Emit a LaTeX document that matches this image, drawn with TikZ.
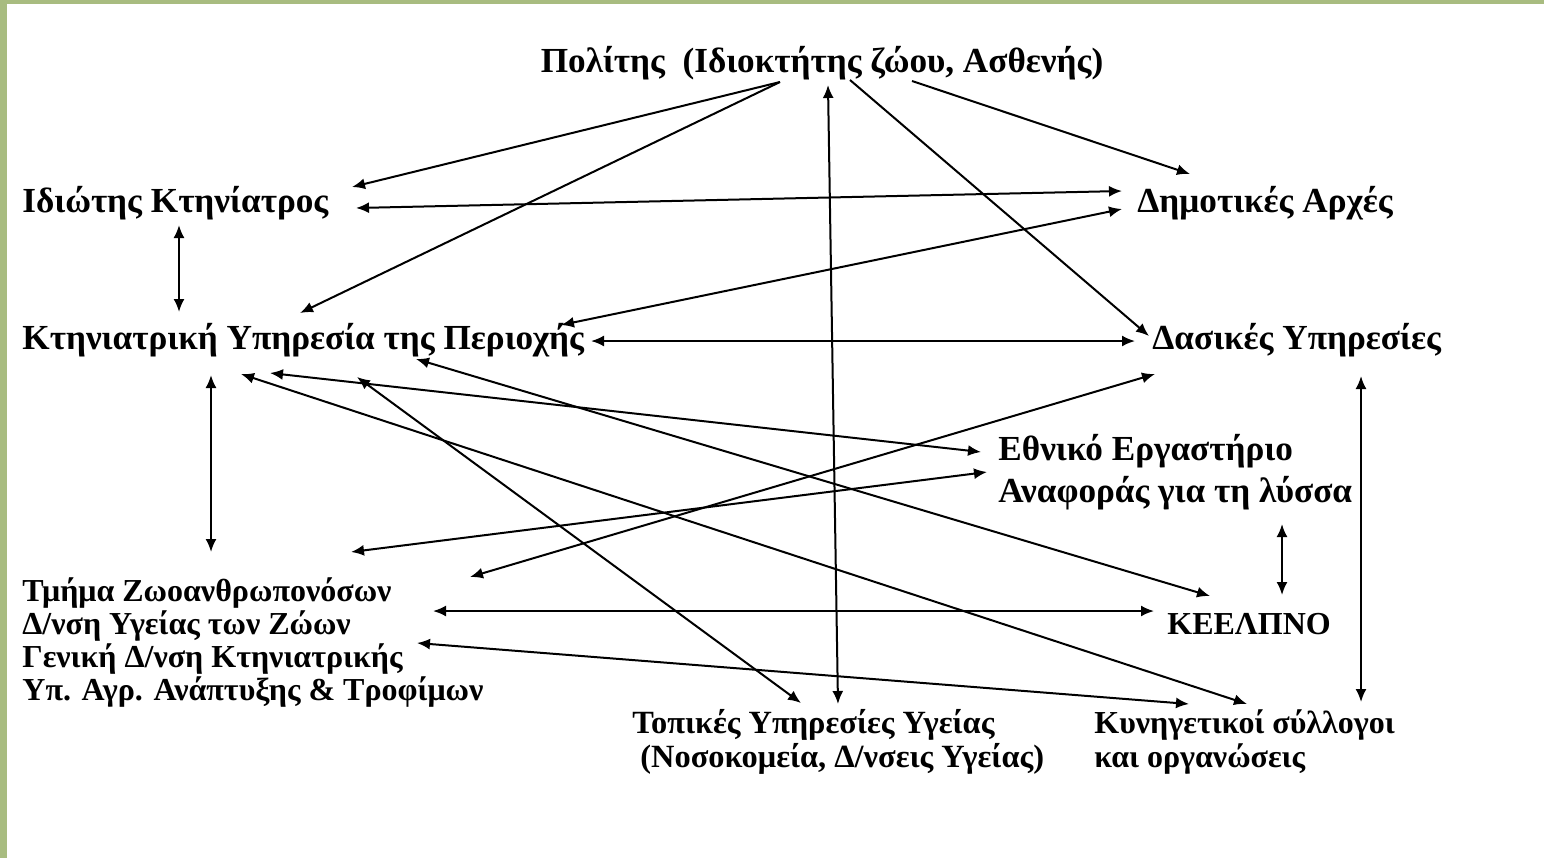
\documentclass[tikz,border=0pt]{standalone}
\usepackage{fontspec}
\setmainfont{Liberation Serif}
\usetikzlibrary{arrows.meta,calc}
\definecolor{olivebg}{RGB}{168,188,128}

\begin{document}
\begin{tikzpicture}[x=0.5pt,y=-0.5pt,
    lbl/.style={inner sep=0pt, font=\fontsize{16}{16.5}\selectfont\bfseries, align=left},
    biglbl/.style={lbl, font=\fontsize{17.6}{21}\selectfont\bfseries},
    link/.style={line width=1pt, -{Latex[length=6.5pt,width=5.5pt]}},
    twoway/.style={line width=1pt, {Latex[length=6.5pt,width=5.5pt]}-{Latex[length=6.5pt,width=5.5pt]}}]
  \useasboundingbox (0,0) rectangle (1544,858);
  \fill[olivebg] (0,0) rectangle (1544,858);
  \fill[white] (7,4) rectangle (1544,858);

  \node[biglbl] (pol) at (822,63) {Πολίτης\ \ (Ιδιοκτήτης ζώου, Ασθενής)};
  \node[biglbl, anchor=west] (idio) at (22,203) {Ιδιώτης Κτηνίατρος};
  \node[biglbl, anchor=west] (dim) at (1137,203) {Δημοτικές Αρχές};
  \node[biglbl, anchor=west] (ktin) at (22,340) {Κτηνιατρική Υπηρεσία της Περιοχής};
  \node[biglbl, anchor=west] (das) at (1152,340) {Δασικές Υπηρεσίες};
  \node[biglbl, anchor=west] (ethn) at (998,472)
    {Εθνικό Εργαστήριο\\Αναφοράς για τη λύσσα};
  \node[lbl, anchor=west] (tmima) at (22,643)
    {Τμήμα Ζωοανθρωπονόσων\\Δ/νση Υγείας των Ζώων\\Γενική Δ/νση Κτηνιατρικής\\Υπ. Αγρ. Ανάπτυξης \& Τροφίμων};
  \node[lbl, anchor=west] (keel) at (1167,624) {ΚΕΕΛΠΝΟ};
  \node[lbl, anchor=west, font=\fontsize{16.2}{17}\selectfont\bfseries] (top) at (632,742)
    {Τοπικές Υπηρεσίες Υγείας\\\hspace*{4pt}(Νοσοκομεία, Δ/νσεις Υγείας)};
  \node[lbl, anchor=west, font=\fontsize{16}{17}\selectfont\bfseries] (kyn) at (1094,742)
    {Κυνηγετικοί σύλλογοι\\και οργανώσεις};

  % from the citizen
  \draw[link] ($(pol)+(-42,19)$) -- ($(idio.west)+(330,-16)$);
  \draw[link] ($(pol)+(-42,19)$) -- ($(ktin.west)+(278,-27)$);
  \draw[link] ($(pol)+(28,17)$) -- ($(das.west)+(-3,-4)$);
  \draw[link] ($(pol)+(90,18)$) -- ($(dim.west)+(53,-29)$);
  \draw[twoway] ($(top.west)+(206,-38)$) -- ($(pol)+(6,22)$);

  % both ways
  \draw[twoway] ($(idio.west)+(334,5)$) -- ($(dim.west)+(-15,-12)$);
  \draw[twoway] ($(ktin.west)+(539,-15)$) -- ($(dim.west)+(-15,6)$);
  \draw[twoway] ($(idio.west)+(157,22)$) -- ($(ktin.west)+(157,-28)$);
  \draw[twoway] ($(ktin.west)+(569,1)$) -- ($(das.west)+(-17,1)$);
  \draw[twoway] ($(ktin.west)+(189,35)$) -- ($(tmima.west)+(189,-91)$);
  \draw[twoway] ($(tmima.west)+(448,-66)$) -- ($(das.west)+(3,34)$);
  \draw[twoway] ($(tmima.west)+(329,-91)$) -- ($(ethn.west)+(-11,0)$);
  \draw[twoway] ($(ktin.west)+(248,33)$) -- ($(ethn.west)+(-17,-20)$);
  \draw[twoway] ($(ktin.west)+(394,19)$) -- ($(keel.west)+(43,-28)$);
  \draw[twoway] ($(ktin.west)+(219,34)$) -- ($(kyn.west)+(153,-38)$);
  \draw[twoway] ($(ktin.west)+(335,37)$) -- ($(top.west)+(169,-39)$);
  \draw[twoway] ($(tmima.west)+(411,-32)$) -- ($(keel.west)+(-13,-13)$);
  \draw[twoway] ($(tmima.west)+(395,0)$) -- ($(kyn.west)+(95,-38)$);
  \draw[twoway] ($(ethn.west)+(284,52)$) -- ($(keel.west)+(115,-29)$);
  \draw[twoway] ($(das.west)+(209,36)$) -- ($(kyn.west)+(267,-40)$);
\end{tikzpicture}
\end{document}
